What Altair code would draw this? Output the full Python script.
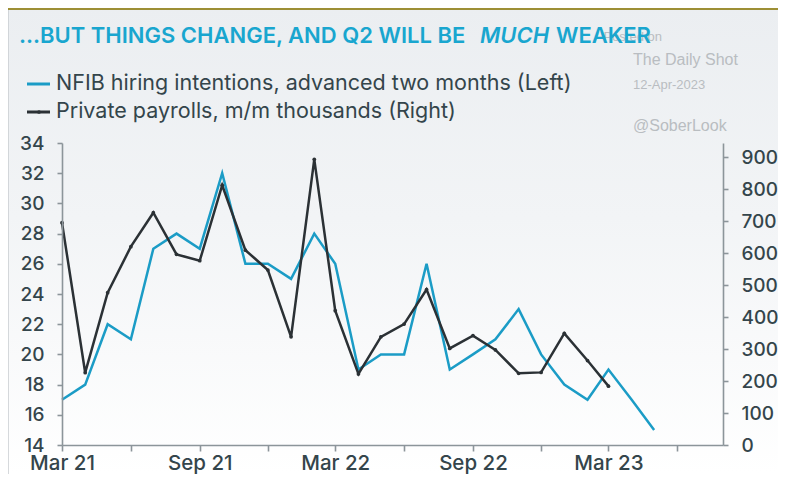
import altair as alt
import pandas as pd

# ---- data ----
nfib_months = [
    "2021-03-01", "2021-04-01", "2021-05-01", "2021-06-01", "2021-07-01", "2021-08-01",
    "2021-09-01", "2021-10-01", "2021-11-01", "2021-12-01", "2022-01-01", "2022-02-01",
    "2022-03-01", "2022-04-01", "2022-05-01", "2022-06-01", "2022-07-01", "2022-08-01",
    "2022-09-01", "2022-10-01", "2022-11-01", "2022-12-01", "2023-01-01", "2023-02-01",
    "2023-03-01", "2023-04-01", "2023-05-01",
]
nfib_values = [17, 18, 22, 21, 27, 28, 27, 32, 26, 26, 25, 28, 26, 19, 20, 20, 26, 19,
               20, 21, 23, 20, 18, 17, 19, 17, 15]

pay_months = nfib_months[:25]
pay_values = [695, 226, 476, 620, 726, 596, 576, 812, 609, 547, 338, 893, 420, 222, 338,
              378, 486, 302, 342, 297, 224, 227, 349, 264, 184]

left_ticks = [14, 16, 18, 20, 22, 24, 26, 28, 30, 32, 34]
right_ticks = [0, 100, 200, 300, 400, 500, 600, 700, 800, 900]
x_tick_months = [(2021, 3), (2021, 6), (2021, 9), (2021, 12), (2022, 3), (2022, 6),
                 (2022, 9), (2022, 12), (2023, 3), (2023, 6)]

title_parts = ["...BUT THINGS CHANGE, AND Q2 WILL BE", "MUCH", "WEAKER"]
legend_labels = ["NFIB hiring intentions, advanced two months (Left)",
                 "Private payrolls, m/m thousands (Right)"]
watermark = ["Posted on", "The Daily Shot", "12-Apr-2023", "@SoberLook"]

BLUE = "#1b9cc6"
DARK = "#2b3135"
TITLE_BLUE = "#19a6cf"
LABEL = "#34454b"
AXIS = "#8c959a"
WM = "#b9bdc1"
FONT = "Inter"

nfib_df = pd.DataFrame({"date": nfib_months, "value": nfib_values})
pay_df = pd.DataFrame({"date": pay_months, "value": pay_values})
one = pd.DataFrame({"k": [0]})

x_domain = [alt.DateTime(year=2021, month=3, date=1, utc=True),
            alt.DateTime(year=2023, month=8, date=1, utc=True)]
x_values = [alt.DateTime(year=y, month=m, date=1, utc=True) for y, m in x_tick_months]
x_scale = alt.Scale(type="utc", domain=x_domain)
x_axis = alt.Axis(
    values=x_values,
    labelExpr="(utcFormat(datum.value, '%m') == '03' || utcFormat(datum.value, '%m') == '09') ? utcFormat(datum.value, '%b %y') : ''",
    title=None, grid=False, tickSize=6, labelPadding=2, labelFlush=False,
    labelOverlap=False, zindex=1, labelFontSize=20.5,
)

bg = alt.Chart(one).mark_rect(
    color=alt.Gradient(
        gradient="linear", x1=0, x2=0, y1=0, y2=1,
        stops=[alt.GradientStop(offset=0, color="#ebeef1"),
               alt.GradientStop(offset=0.45, color="#f2f4f6"),
               alt.GradientStop(offset=1, color="#ffffff")],
    )
).encode(x=alt.value(-54), x2=alt.value(716), y=alt.value(-135), y2=alt.value(331))

topline = alt.Chart(one).mark_rule(color="#9d8f35", strokeWidth=2).encode(
    x=alt.value(-54), x2=alt.value(716), y=alt.value(-134))
leftline = alt.Chart(one).mark_rule(color="#c9cdd0", strokeWidth=1.5).encode(
    x=alt.value(-54), y=alt.value(-133), y2=alt.value(331))


def txt(s, x, y, size, color, weight="normal", style="normal", font=FONT,
        baseline="middle", align="left"):
    return alt.Chart(one).mark_text(
        text=s, font=font, fontSize=size, color=color, fontWeight=weight,
        fontStyle=style, baseline=baseline, align=align,
    ).encode(x=alt.value(x), y=alt.value(y))


wm_layers = [
    txt(watermark[0], 600, -106, 13, WM, font="Liberation Sans", align="right"),
    txt(watermark[1], 571, -83, 16, WM, font="Liberation Sans"),
    txt(watermark[2], 571, -58, 13, WM, font="Liberation Sans"),
    txt(watermark[3], 571, -17, 16, WM, font="Liberation Sans"),
]

title_layers = [
    txt(title_parts[0], -43, -100, 22, TITLE_BLUE, weight=600, baseline="alphabetic"),
    txt(title_parts[1], 418, -100, 22, TITLE_BLUE, weight=600, style="italic",
        baseline="alphabetic"),
    txt(title_parts[2], 494, -100, 22, TITLE_BLUE, weight=600, baseline="alphabetic"),
]

legend_layers = [
    alt.Chart(one).mark_rule(color=BLUE, strokeWidth=3).encode(
        x=alt.value(-35), x2=alt.value(-12), y=alt.value(-59)),
    txt(legend_labels[0], -6, -59, 21.5, LABEL),
    alt.Chart(one).mark_rule(color=DARK, strokeWidth=3).encode(
        x=alt.value(-35), x2=alt.value(-12), y=alt.value(-31)),
    alt.Chart(one).mark_point(color=DARK, filled=True, size=14, opacity=1).encode(
        x=alt.value(-23), y=alt.value(-31)),
    txt(legend_labels[1], -6, -31, 21.5, LABEL),
]

blue = alt.Chart(nfib_df).mark_line(color=BLUE, strokeWidth=2.5).encode(
    x=alt.X("date:T", scale=x_scale, axis=x_axis),
    y=alt.Y("value:Q", scale=alt.Scale(domain=[14, 34], nice=False, zero=False),
            axis=alt.Axis(orient="left", values=left_ticks, title=None, grid=False,
                          tickSize=5, labelPadding=13, zindex=1)),
)

black = alt.Chart(pay_df).mark_line(
    color=DARK, strokeWidth=2.5,
    point=alt.OverlayMarkDef(color=DARK, filled=True, size=14, opacity=1),
).encode(
    x=alt.X("date:T", scale=x_scale, axis=x_axis),
    y=alt.Y("value:Q", scale=alt.Scale(domain=[0, 944], nice=False),
            axis=alt.Axis(orient="right", values=right_ticks, title=None, grid=False,
                          tickSize=5, labelPadding=13, zindex=1)),
)

chart = alt.layer(
    bg, topline, leftline, *wm_layers, *title_layers, *legend_layers, blue, black
).resolve_scale(y="independent").properties(
    width=661, height=302,
    autosize=alt.AutoSizeParams(type="none"),
    padding={"left": 54, "top": 135, "right": 55, "bottom": 29},
    background="#ffffff",
).configure_view(stroke=None).configure_axis(
    domainColor=AXIS, domainWidth=1.6, tickColor=AXIS, tickWidth=1.6,
    labelFont=FONT, labelFontSize=19, labelColor=LABEL, labelFontWeight=500,
)

chart.save("out.html", embed_options={"renderer": "svg", "actions": False})
